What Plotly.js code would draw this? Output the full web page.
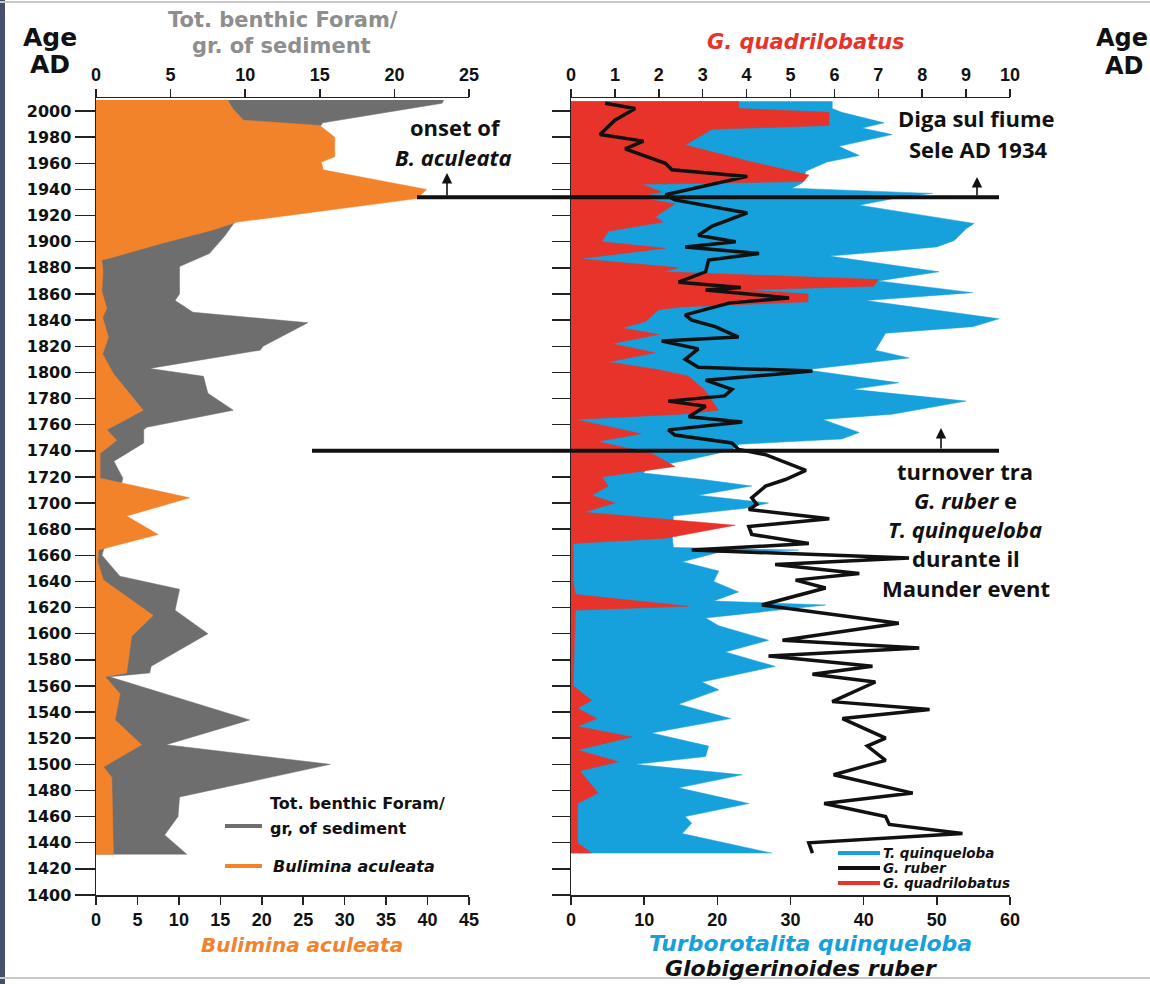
<!DOCTYPE html>
<html>
<head>
<meta charset="utf-8">
<script src="https://cdn.plot.ly/plotly-3.0.1.min.js"></script>
<style>
  html, body { margin: 0; padding: 0; background: #ffffff; }
  #chart { width: 1150px; height: 984px; }
</style>
</head>
<body>
<div id="chart"></div>
<script>
// ---- Benthic foraminifera (left panel) ----
// Total benthic foraminifera per gram of sediment (top scale, 0-25)
const benthicYear = [2008.5, 2006, 1991, 1988, 1975, 1960, 1945, 1930, 1915, 1904, 1891, 1881, 1860, 1855, 1846, 1838, 1820, 1817, 1804, 1803, 1797, 1784, 1771, 1758, 1756, 1746, 1732, 1719, 1705, 1690, 1676, 1664, 1660, 1644, 1634, 1618, 1600, 1575, 1570, 1567, 1534, 1515, 1500, 1475, 1460, 1446, 1431];
const benthicTotal = [23.3, 23.2, 15.2, 15.0, 14.5, 14.0, 14.0, 12.0, 9.3, 8.6, 7.6, 5.6, 5.6, 5.3, 6.5, 14.2, 11.2, 11.0, 4.1, 3.6, 7.2, 7.5, 9.2, 3.4, 3.2, 3.2, 1.2, 1.8, 1.5, 1.2, 1.0, 0.5, 0.4, 1.6, 5.6, 5.3, 7.5, 3.7, 3.6, 0.9, 10.3, 4.7, 15.7, 5.6, 5.5, 4.6, 6.1];

// Bulimina aculeata (bottom scale, 0-45)
const buliminaYear = [2008.5, 2007, 2001, 1993, 1989, 1980, 1965, 1961, 1955, 1940, 1933, 1915, 1909, 1899, 1888, 1886, 1877, 1862, 1849, 1842, 1827, 1814, 1799, 1771, 1756, 1748, 1738, 1728, 1719, 1704, 1690, 1676, 1664, 1655, 1641, 1614, 1598, 1570, 1567, 1554, 1534, 1515, 1498, 1490, 1431];
const buliminaVal = [15.9, 16.0, 16.6, 17.8, 27.0, 28.8, 28.8, 27.2, 27.4, 39.9, 38.7, 17.0, 14.1, 8.1, 2.0, 0.7, 0.85, 0.7, 1.3, 0.8, 1.5, 0.8, 2.1, 5.7, 1.3, 2.5, 0.5, 0.5, 0.5, 11.3, 3.7, 7.5, 0.3, 0.2, 0.9, 6.9, 4.3, 3.7, 1.1, 2.9, 2.3, 5.5, 0.9, 1.9, 2.1];

// ---- Planktonic foraminifera (right panel) ----
// Turborotalita quinqueloba (bottom scale, 0-60)
const quinqYear = [2007.5, 2002, 1999, 1991, 1987, 1982, 1973, 1966, 1961, 1954, 1945, 1941, 1937, 1934, 1928, 1914, 1910, 1901, 1896, 1889, 1877, 1870, 1861, 1855, 1841, 1835, 1830, 1817, 1811, 1802, 1792, 1787, 1778, 1768, 1764, 1754, 1749, 1745, 1741, 1738, 1733, 1727, 1723, 1718, 1713, 1706, 1700, 1696, 1690, 1676, 1666, 1664, 1662, 1655, 1648, 1640, 1632, 1625, 1622, 1612, 1606, 1595, 1586, 1575, 1563, 1557, 1546, 1535, 1524, 1514, 1506, 1500, 1492, 1482, 1470, 1460, 1455, 1447, 1432];
const quinqVal = [35.7, 35.7, 37.0, 42.8, 39.8, 43.9, 36.6, 39.4, 35.0, 32.1, 31.6, 30.2, 49.4, 45.0, 39.4, 55.1, 54.0, 52.4, 50.0, 35.3, 50.3, 42.0, 54.9, 40.3, 58.5, 54.9, 43.0, 41.6, 46.2, 32.1, 44.8, 38.5, 54.0, 43.9, 34.4, 39.4, 37.0, 23.0, 22.0, 20.0, 16.0, 10.5, 9.9, 18.0, 24.7, 17.4, 27.0, 23.8, 14.0, 13.8, 14.0, 31.1, 20.0, 15.2, 20.2, 19.5, 22.9, 19.5, 34.8, 18.4, 20.2, 27.0, 21.1, 27.9, 17.9, 20.2, 14.7, 21.8, 11.0, 18.8, 18.4, 8.8, 23.4, 14.7, 24.3, 15.6, 16.5, 15.2, 27.5];

// Globorotalia quadrilobatus (top scale, 0-10)
const quadYear = [2007.5, 2002, 1999, 1989, 1986, 1974, 1961, 1951, 1946, 1944, 1938, 1934, 1929, 1919, 1915, 1908, 1900, 1895, 1887, 1880, 1877, 1871, 1866, 1863, 1860, 1854, 1850, 1848, 1839, 1834, 1829, 1822, 1815, 1808, 1802, 1797, 1786, 1771, 1768, 1764, 1753, 1747, 1738, 1728, 1720, 1713, 1706, 1700, 1693, 1683, 1673, 1669, 1640, 1630, 1621, 1618, 1560, 1549, 1543, 1535, 1529, 1521, 1511, 1502, 1495, 1478, 1470, 1440, 1432];
const quadVal = [3.82, 3.82, 5.88, 5.88, 3.21, 2.6, 4.12, 5.42, 5.3, 1.61, 2.07, 1.5, 2.37, 1.92, 2.1, 0.85, 0.7, 2.15, 0.2, 2.45, 2.1, 7.0, 6.9, 4.0, 5.4, 5.4, 2.5, 2.0, 1.7, 1.16, 2.0, 0.93, 1.92, 0.85, 2.0, 2.68, 3.06, 3.36, 2.5, 0.1, 1.6, 0.6, 1.84, 2.37, 0.7, 0.85, 0.47, 1.0, 0.3, 3.74, 2.15, 0.05, 0.05, 0.1, 2.68, 0.1, 0.05, 0.47, 0.15, 0.59, 0.15, 1.39, 0.15, 1.08, 0.2, 0.62, 0.15, 0.15, 0.47];

// Globigerinoides ruber (bottom scale, 0-60)
const ruberYear = [2006, 2002, 1993, 1982, 1977, 1971, 1960, 1955, 1950, 1936, 1932, 1922, 1912, 1905, 1900, 1896, 1891, 1886, 1877, 1869, 1865, 1863, 1857, 1853, 1844, 1840, 1835, 1827, 1824, 1818, 1810, 1804, 1801, 1794, 1787, 1782, 1778, 1774, 1766, 1762, 1756, 1752, 1746, 1741, 1737, 1733, 1725, 1718, 1713, 1704, 1699, 1695, 1688, 1682, 1676, 1669, 1664, 1658, 1653, 1646, 1641, 1635, 1622, 1608, 1595, 1589, 1583, 1575, 1569, 1563, 1548, 1542, 1535, 1520, 1514, 1503, 1492, 1478, 1470, 1460, 1454, 1447, 1440, 1432];
const ruberVal = [4.66, 8.77, 6.0, 3.97, 9.9, 7.4, 12.9, 13.8, 24.1, 12.9, 14.2, 24.1, 19.3, 17.4, 22.5, 15.6, 25.7, 18.8, 18.4, 14.7, 23.2, 18.4, 29.8, 21.6, 15.6, 16.5, 19.7, 22.9, 12.4, 17.4, 15.6, 17.4, 33.0, 18.4, 22.0, 21.0, 13.3, 18.4, 16.1, 23.4, 13.3, 14.2, 22.0, 22.9, 26.6, 28.4, 32.1, 29.3, 26.6, 24.7, 25.4, 24.3, 35.3, 24.3, 24.7, 32.5, 16.5, 46.2, 27.9, 39.4, 30.7, 34.8, 26.1, 44.8, 28.9, 47.6, 27.0, 41.2, 33.0, 41.6, 35.7, 49.0, 37.1, 43.0, 40.5, 43.0, 35.9, 46.7, 34.6, 43.0, 43.5, 53.5, 32.5, 33.0];

// Age axis ticks
const ageTicks = [];
for (let a = 1400; a <= 2000; a += 20) ageTicks.push(a);

// ---- colours and fonts ----
const C = {
  grey: '#6e6e6e', orange: '#f2832b', blue: '#16a0dc', red: '#e8332b', black: '#111111',
  titleGrey: '#8e8e8e'
};
const ARIAL = '"Liberation Sans", Arial, sans-serif';
const WIDE = '"DejaVu Sans", Verdana, sans-serif';
const NOTE = '"Open Sans", Lato, sans-serif';

const W = 1150, H = 984;
const px = x => x / W;
const py = y => 1 - y / H;

// Layer order: base subplot first, then overlays in axis order
const traces = [
  {
    name: 'Tot. benthic Foram/gr. of sediment', x: benthicTotal, y: benthicYear,
    xaxis: 'x', yaxis: 'y', type: 'scatter', mode: 'lines', fill: 'tozerox',
    fillcolor: C.grey, line: { color: C.grey, width: 0.5 }, hoverinfo: 'skip'
  },
  {
    name: 'Bulimina aculeata', x: buliminaVal, y: buliminaYear,
    xaxis: 'x2', yaxis: 'y', type: 'scatter', mode: 'lines', fill: 'tozerox',
    fillcolor: C.orange, line: { color: C.orange, width: 0.5 }, hoverinfo: 'skip'
  },
  {
    name: 'T. quinqueloba', x: quinqVal, y: quinqYear,
    xaxis: 'x3', yaxis: 'y2', type: 'scatter', mode: 'lines', fill: 'tozerox',
    fillcolor: C.blue, line: { color: C.blue, width: 0.5 }, hoverinfo: 'skip'
  },
  {
    name: 'G. quadrilobatus', x: quadVal, y: quadYear,
    xaxis: 'x4', yaxis: 'y2', type: 'scatter', mode: 'lines', fill: 'tozerox',
    fillcolor: C.red, line: { color: C.red, width: 0.5 }, hoverinfo: 'skip'
  },
  {
    name: 'G. ruber', x: ruberVal, y: ruberYear,
    xaxis: 'x5', yaxis: 'y2', type: 'scatter', mode: 'lines',
    line: { color: C.black, width: 3.5 }, hoverinfo: 'skip'
  }
];

const xBase = {
  showline: true, linecolor: '#222', linewidth: 1.5, ticks: 'outside', ticklen: 8,
  tickwidth: 1.5, tickcolor: '#222', showgrid: false, zeroline: false, fixedrange: true,
  tickfont: { family: ARIAL, size: 18, color: '#111', weight: 'bold' }
};
const yBase = {
  range: [1400, 2010], domain: [py(895), py(98)], showline: true, linecolor: '#222',
  linewidth: 1.5, ticks: 'outside', tickwidth: 1.5, tickcolor: '#222', showgrid: false,
  zeroline: false, fixedrange: true, tickmode: 'array', tickvals: ageTicks,
  ticktext: ageTicks.map(String),
  tickfont: { family: WIDE, size: 16, color: '#111', weight: 'bold' }
};

function note(text, x, y, opts) {
  return Object.assign({
    text: text, xref: 'paper', yref: 'paper', x: px(x), y: py(y),
    xanchor: 'center', yanchor: 'middle', showarrow: false,
    font: { family: NOTE, size: 22, color: '#111', weight: 'bold' }
  }, opts || {});
}
function font(family, size, color, extra) {
  return Object.assign({ family: family, size: size, color: color, weight: 'bold' }, extra || {});
}
function arrow(x, yTip, len) {
  return {
    text: '', xref: 'paper', yref: 'paper', x: px(x), y: py(yTip), ax: 0, ay: len,
    showarrow: true, arrowhead: 2, arrowsize: 1.3, arrowwidth: 1.6, arrowcolor: '#111'
  };
}

const annotations = [
  note('Age', 50, 38, { font: font(WIDE, 25, '#111') }),
  note('AD', 50, 65, { font: font(WIDE, 25, '#111') }),
  note('Age', 1094, 38, { xanchor: 'left', font: font(WIDE, 24, '#111') }),
  note('AD', 1103, 66, { xanchor: 'left', font: font(WIDE, 24, '#111') }),

  note('Tot. benthic Foram/', 283, 20, { font: font(WIDE, 21, C.titleGrey) }),
  note('gr. of sediment', 281, 46, { font: font(WIDE, 21, C.titleGrey) }),
  note('<i>G. quadrilobatus</i>', 806, 42, { font: font(WIDE, 21, C.red) }),

  note('<i>Bulimina aculeata</i>', 302, 945, { font: font(WIDE, 20, C.orange) }),
  note('<i>Turborotalita quinqueloba</i>', 810, 943, { font: font(WIDE, 22, C.blue) }),
  note('<i>Globigerinoides ruber</i>', 801, 968, { font: font(WIDE, 22, '#111') }),

  note('onset of', 455, 127),
  note('<i>B. aculeata</i>', 453, 157),
  note('Diga sul fiume', 976, 118),
  note('Sele AD 1934', 978, 149),
  note('turnover tra', 965, 471),
  note('<i>G. ruber</i> e', 965, 500),
  note('<i>T. quinqueloba</i>', 965, 529),
  note('durante il', 966, 558),
  note('Maunder event', 966, 588),

  arrow(447, 173, 24),
  arrow(977, 177, 20),
  arrow(941, 428, 22),

  note('Tot. benthic Foram/', 268, 803, { xanchor: 'left', font: font(WIDE, 16, '#111') }),
  note('gr, of sediment', 268, 828, { xanchor: 'left', font: font(WIDE, 16, '#111') }),
  note('<i>Bulimina aculeata</i>', 271, 866, { xanchor: 'left', font: font(WIDE, 16, '#111') }),

  note('<i>T. quinqueloba</i>', 881, 853, { xanchor: 'left', font: font(WIDE, 13.5, '#111') }),
  note('<i>G. ruber</i>', 881, 868, { xanchor: 'left', font: font(WIDE, 13.5, '#111') }),
  note('<i>G. quadrilobatus</i>', 881, 883, { xanchor: 'left', font: font(WIDE, 13.5, '#111') })
];

const shapes = [
  // event lines
  { type: 'line', xref: 'paper', yref: 'y', x0: px(417), x1: px(999), y0: 1934, y1: 1934, line: { color: '#111', width: 4 } },
  { type: 'line', xref: 'paper', yref: 'y', x0: px(312), x1: px(999), y0: 1740, y1: 1740, line: { color: '#111', width: 4 } },
  // left legend keys
  { type: 'line', xref: 'paper', yref: 'paper', x0: px(225), x1: px(262), y0: py(826), y1: py(826), line: { color: C.grey, width: 4 } },
  { type: 'line', xref: 'paper', yref: 'paper', x0: px(225), x1: px(262), y0: py(866), y1: py(866), line: { color: C.orange, width: 4 } },
  // right legend keys
  { type: 'line', xref: 'paper', yref: 'paper', x0: px(838), x1: px(880), y0: py(853), y1: py(853), line: { color: C.blue, width: 4 } },
  { type: 'line', xref: 'paper', yref: 'paper', x0: px(838), x1: px(880), y0: py(868), y1: py(868), line: { color: C.black, width: 4 } },
  { type: 'line', xref: 'paper', yref: 'paper', x0: px(838), x1: px(880), y0: py(883), y1: py(883), line: { color: C.red, width: 4 } },
  // page frame
  { type: 'rect', xref: 'paper', yref: 'paper', x0: 0, x1: px(5), y0: 0, y1: 1, fillcolor: '#46506a', line: { width: 0 } },
  { type: 'line', xref: 'paper', yref: 'paper', x0: 0, x1: 1, y0: py(2), y1: py(2), line: { color: '#c8c8c8', width: 2 } },
  { type: 'line', xref: 'paper', yref: 'paper', x0: 0, x1: 1, y0: py(978), y1: py(978), line: { color: '#c8c8c8', width: 2 } }
];

const layout = {
  width: W, height: H, margin: { l: 0, r: 0, t: 0, b: 0 },
  paper_bgcolor: '#ffffff', plot_bgcolor: 'rgba(0,0,0,0)', showlegend: false,
  // left panel: top scale (benthic total) is the base axis, bottom scale (B. aculeata) overlays it
  xaxis: Object.assign({}, xBase, { domain: [px(96), px(469)], range: [0, 25], anchor: 'y', side: 'top', tickmode: 'linear', tick0: 0, dtick: 5 }),
  xaxis2: Object.assign({}, xBase, { overlaying: 'x', range: [0, 45], anchor: 'y', side: 'bottom', tickmode: 'linear', tick0: 0, dtick: 5 }),
  // right panel: percentage scale at the bottom, G. quadrilobatus scale on top
  xaxis3: Object.assign({}, xBase, { domain: [px(571), px(1010)], range: [0, 60], anchor: 'y2', side: 'bottom', tickmode: 'linear', tick0: 0, dtick: 10 }),
  xaxis4: Object.assign({}, xBase, { overlaying: 'x3', range: [0, 10], anchor: 'y2', side: 'top', tickmode: 'linear', tick0: 0, dtick: 1 }),
  xaxis5: { overlaying: 'x3', range: [0, 60], anchor: 'y2', visible: false, fixedrange: true },
  yaxis: Object.assign({}, yBase, { anchor: 'x', side: 'left', ticklen: 20 }),
  yaxis2: Object.assign({}, yBase, { overlaying: 'y', anchor: 'x3', side: 'left', ticklen: 18, showticklabels: false }),
  yaxis3: Object.assign({}, yBase, { overlaying: 'y', anchor: 'free', position: px(1066), side: 'right', ticklen: 20 }),
  annotations: annotations,
  shapes: shapes
};

Plotly.newPlot('chart', traces, layout, { staticPlot: true, displayModeBar: false });
</script>
</body>
</html>
